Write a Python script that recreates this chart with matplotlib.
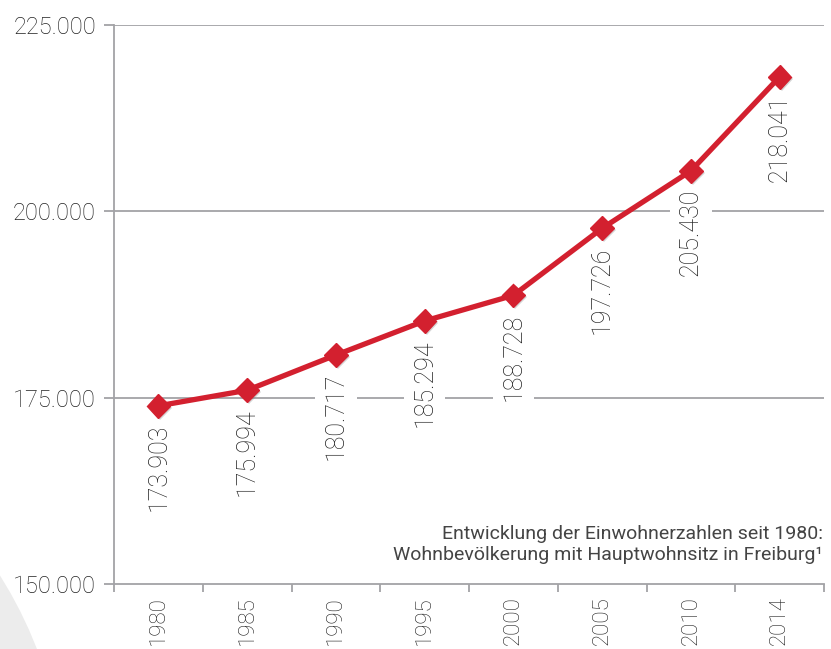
import matplotlib
matplotlib.use("Agg")
import matplotlib.pyplot as plt
import matplotlib.patheffects as pe
from matplotlib.patches import Ellipse

plt.rcParams['font.family'] = ['Roboto', 'DejaVu Sans']

# ========== Data ==========
years = ["1980", "1985", "1990", "1995", "2000", "2005", "2010", "2014"]
population = [173903, 175994, 180717, 185294, 188728, 197726, 205430, 218041]
value_labels = ["173.903", "175.994", "180.717", "185.294", "188.728",
                "197.726", "205.430", "218.041"]
y_ticks = [150000, 175000, 200000, 225000]
y_tick_labels = ["150.000", "175.000", "200.000", "225.000"]

RED = '#d3202f'
GREY = '#a3a3a6'
TEXT = '#222222'

W, H = 831, 649
fig = plt.figure(figsize=(W / 100, H / 100), dpi=100)

# faint background circle (bottom-left decoration)
r = 420
fig.patches.append(Ellipse((-355 / W, 1 - 800 / H), 2 * r / W, 2 * r / H,
                           transform=fig.transFigure, facecolor='#ececec',
                           edgecolor='none', zorder=0))

ax = fig.add_axes([114 / W, 1 - 584 / H, 710 / W, 559 / H])
ax.patch.set_alpha(0)

x = list(range(len(years)))

# gridlines
for yv in y_ticks[1:]:
    ax.axhline(yv, color=GREY, linewidth=1.3, zorder=1)

# line + markers
ax.plot(x, population, color=RED, linewidth=3.8, zorder=4,
        solid_capstyle='round')
ax.plot(x, population, linestyle='none', marker='D', markersize=12,
        markerfacecolor=RED, markeredgecolor=RED, zorder=5,
        path_effects=[pe.SimplePatchShadow(offset=(1.5, -1.5), alpha=0.3,
                                           shadow_rgbFace='#777777'),
                      pe.Normal()])

# value labels under points
for xi, yv, lab in zip(x, population, value_labels):
    ax.annotate(lab, (xi, yv), xytext=(0, -13), textcoords='offset points',
                rotation=90, ha='center', va='top', fontsize=18,
                fontweight='light', color=TEXT, zorder=3,
                bbox=dict(boxstyle='square,pad=0.35', facecolor='white',
                          edgecolor='none'))

ax.set_xlim(-0.5, len(years) - 0.5)
ax.set_ylim(150000, 225000)

# x axis: labels centred, tick marks on category boundaries
ax.set_xticks(x)
ax.set_xticklabels(years, rotation=90, fontsize=16, color=TEXT,
                   fontweight='light')
ax.tick_params(axis='x', which='major', length=0, pad=9)
ax.set_xticks([i - 0.5 for i in range(len(years) + 1)], minor=True)
ax.tick_params(axis='x', which='minor', length=6, width=1.3, color=GREY,
               direction='out')

ax.set_yticks(y_ticks)
ax.set_yticklabels(y_tick_labels, fontsize=17, color=TEXT, fontweight='light')
ax.tick_params(axis='y', length=7, width=1.3, color=GREY, pad=6)

for side in ['top', 'right']:
    ax.spines[side].set_visible(False)
for side in ['left', 'bottom']:
    ax.spines[side].set_color(GREY)
    ax.spines[side].set_linewidth(1.3)

ax.text(0.998, 0.035,
        "Entwicklung der Einwohnerzahlen seit 1980:\n"
        "Wohnbevölkerung mit Hauptwohnsitz in Freiburg\u00b9",
        transform=ax.transAxes, ha='right', va='bottom', fontsize=14,
        color='#444444', linespacing=1.25)

fig.savefig("out.png", dpi=100)
